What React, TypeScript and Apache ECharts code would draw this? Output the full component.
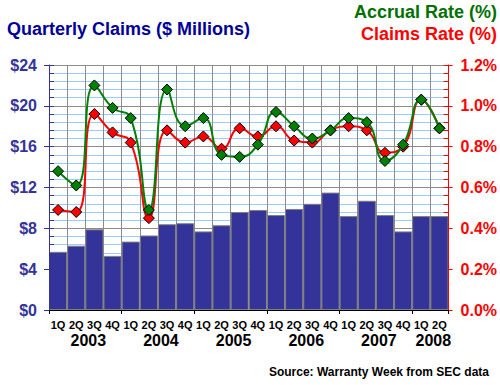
import React, { useEffect, useRef } from "react";
import * as echarts from "echarts";

const years = ["2003", "2004", "2005", "2006", "2007", "2008"];
const quartersPerYear = [4, 4, 4, 4, 4, 2];
const quarterNames = ["1Q", "2Q", "3Q", "4Q"];

// Quarterly claims, $ millions
const claims = [5.7, 6.3, 7.9, 5.3, 6.7, 7.3, 8.4, 8.5, 7.7, 8.3, 9.6, 9.8, 9.3, 9.9, 10.4, 11.5, 9.2, 10.7, 9.3, 7.7, 9.2, 9.2];
// Accrual rate, %
const accrualRate = [0.68, 0.61, 1.1, 0.99, 0.94, 0.49, 1.08, 0.9, 0.94, 0.76, 0.75, 0.81, 0.97, 0.9, 0.84, 0.88, 0.94, 0.92, 0.73, 0.81, 1.03, 0.89];
// Claims rate, %
const claimsRate = [0.49, 0.48, 0.96, 0.87, 0.82, 0.45, 0.88, 0.82, 0.85, 0.79, 0.89, 0.85, 0.9, 0.83, 0.82, 0.88, 0.9, 0.88, 0.77, 0.8, 1.03, 0.89];

const leftTicks = { min: 0, max: 24, interval: 4 };
const rightTicks = { min: 0, max: 1.2, interval: 0.2 };

const FONT = '"Liberation Sans", Arial, Helvetica, sans-serif';

export default function App() {
  const ref = useRef<HTMLDivElement>(null);

  useEffect(() => {
    if (!ref.current) return;
    const chart = echarts.init(ref.current, null, { renderer: "svg" });

    const categories: string[] = [];
    years.forEach((y, i) => {
      quarterNames.slice(0, quartersPerYear[i]).forEach((q) => categories.push(q + " " + y));
    });
    const yearCenters: Record<number, string> = {};
    let acc = 0;
    years.forEach((y, i) => {
      yearCenters[acc + quartersPerYear[i] / 2] = y;
      acc += quartersPerYear[i];
    });

    const grey = "#8c8c8c";
    const navy = "#333399";

    chart.setOption({
      animation: false,
      textStyle: { fontFamily: FONT },
      grid: { left: 49, right: 51, top: 65, bottom: 75, containLabel: false },
      xAxis: [
        {
          type: "category",
          data: categories,
          boundaryGap: true,
          axisLine: { show: false },
          axisTick: { show: false },
          axisLabel: {
            interval: 0,
            formatter: (v: string) => v.split(" ")[0],
            color: "#000",
            fontWeight: "bold",
            fontSize: 11,
            fontFamily: FONT,
            margin: 9,
          },
          splitLine: { show: true, interval: 0, lineStyle: { color: grey, width: 1 } },
        },
        {
          type: "value",
          position: "bottom",
          min: 0,
          max: categories.length,
          interval: 1,
          axisLine: { show: false },
          axisTick: { show: false },
          splitLine: { show: false },
          axisLabel: {
            formatter: (v: number) => yearCenters[v] || "",
            color: "#000",
            fontWeight: "bold",
            fontSize: 16,
            fontFamily: FONT,
            margin: 22,
            padding: [0, 0, 0, 6],
            showMinLabel: true,
            showMaxLabel: true,
          },
        },
        {
          type: "category",
          data: categories,
          position: "bottom",
          boundaryGap: true,
          axisLine: { show: true, lineStyle: { color: "#000", width: 1 } },
          axisTick: { show: true, length: 4, lineStyle: { color: "#000" } },
          axisLabel: { show: false },
          splitLine: { show: false },
          z: 10,
        },
      ],
      yAxis: [
        {
          type: "value",
          position: "left",
          ...leftTicks,
          axisLine: { show: false },
          axisTick: { show: true, inside: true, length: 5, lineStyle: { color: navy } },
          minorTick: { show: true, splitNumber: 5, length: 5, lineStyle: { color: navy } },
          axisLabel: {
            formatter: (v: number) => "$" + v,
            color: navy,
            fontWeight: "bold",
            fontSize: 16,
            fontFamily: FONT,
            margin: 12,
          },
          splitLine: { show: true, lineStyle: { color: grey, width: 1 } },
          minorSplitLine: { show: true, lineStyle: { color: "#99ccff", width: 1 } },
        },
        {
          type: "value",
          position: "right",
          ...rightTicks,
          axisLine: { show: false },
          axisTick: { show: true, inside: true, length: 5, lineStyle: { color: "#ff0000" } },
          minorTick: { show: true, splitNumber: 5, length: 5, lineStyle: { color: "#ff0000" } },
          axisLabel: {
            formatter: (v: number) => v.toFixed(1) + "%",
            color: "#ff0000",
            fontWeight: "bold",
            fontSize: 16,
            fontFamily: FONT,
            margin: 12,
          },
          splitLine: { show: false },
        },
        {
          type: "value",
          position: "left",
          ...leftTicks,
          axisLine: { show: true, lineStyle: { color: navy, width: 1 } },
          axisTick: { show: true, inside: false, length: 5, lineStyle: { color: navy } },
          axisLabel: { show: false },
          splitLine: { show: false },
          z: 10,
        },
        {
          type: "value",
          position: "right",
          ...rightTicks,
          axisLine: { show: true, lineStyle: { color: "#ff0000", width: 1 } },
          axisTick: { show: true, inside: false, length: 4, lineStyle: { color: "#ff0000" } },
          axisLabel: { show: false },
          splitLine: { show: false },
          z: 10,
        },
      ],
      series: [
        {
          type: "bar",
          xAxisIndex: 0,
          yAxisIndex: 0,
          data: claims,
          barCategoryGap: "0%",
          itemStyle: { color: "#333399", borderColor: "#808080", borderWidth: 1 },
          z: 2,
        },
        {
          type: "line",
          xAxisIndex: 0,
          yAxisIndex: 1,
          data: claimsRate,
          smooth: 0.5,
          symbol: "diamond",
          symbolSize: 11,
          lineStyle: { color: "#ff0000", width: 2 },
          itemStyle: { color: "#ff0000", borderColor: "#000", borderWidth: 1 },
          z: 3,
        },
        {
          type: "line",
          xAxisIndex: 0,
          yAxisIndex: 1,
          data: accrualRate,
          smooth: 0.5,
          symbol: "diamond",
          symbolSize: 11,
          lineStyle: { color: "#008000", width: 2 },
          itemStyle: { color: "#008000", borderColor: "#000", borderWidth: 1 },
          z: 4,
        },
      ],
      graphic: [
        {
          type: "text",
          x: 7,
          y: 29,
          style: {
            text: "Quarterly Claims ($ Millions)",
            fill: "#000099",
            font: "bold 18px " + FONT,
            align: "left",
            verticalAlign: "middle",
          },
        },
        {
          type: "text",
          x: 497,
          y: 12,
          style: {
            text: "Accrual Rate (%)",
            fill: "#007000",
            font: "bold 18px " + FONT,
            align: "right",
            verticalAlign: "middle",
          },
        },
        {
          type: "text",
          x: 497,
          y: 34,
          style: {
            text: "Claims Rate (%)",
            fill: "#ff0000",
            font: "bold 18px " + FONT,
            align: "right",
            verticalAlign: "middle",
          },
        },
        {
          type: "text",
          x: 489,
          y: 372,
          style: {
            text: "Source: Warranty Week from SEC data",
            fill: "#000",
            font: "bold 12px " + FONT,
            align: "right",
            verticalAlign: "middle",
          },
        },
      ],
    });

    return () => chart.dispose();
  }, []);

  return (
    <div
      ref={ref}
      style={{ position: "fixed", left: 0, top: 0, width: 500, height: 385, background: "#fff" }}
    />
  );
}
